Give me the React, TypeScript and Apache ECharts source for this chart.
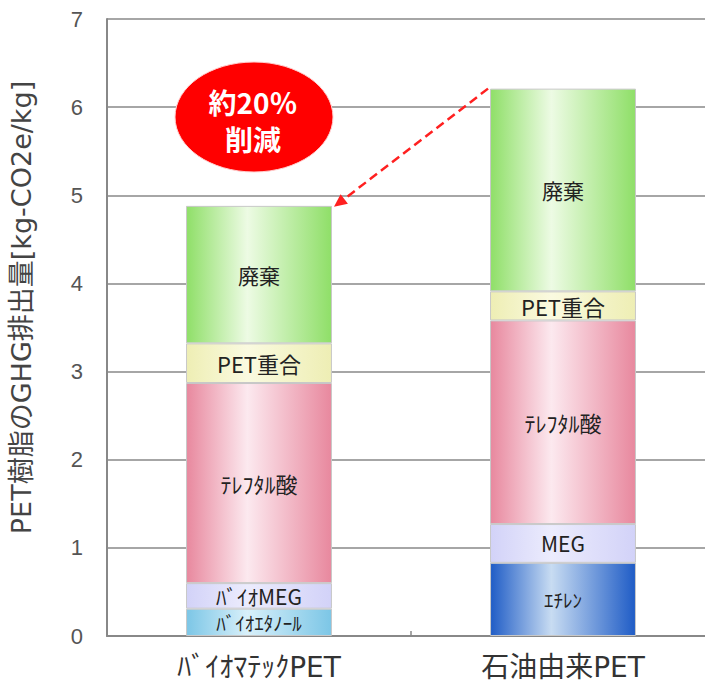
import React, { useEffect, useRef } from "react";
import * as echarts from "echarts";

const categories = ["ﾊﾞｲｵﾏﾃｯｸPET", "石油由来PET"];
const yTicks = [0, 1, 2, 3, 4, 5, 6, 7];
// stack layers, bottom to top: values per category
const layerBase = [0.31, 0.83];
const layerMEG = [0.29, 0.44];
const layerTPA = [2.27, 2.31];
const layerPET = [0.45, 0.33];
const layerWaste = [1.56, 2.3];
const baseNames = ["ﾊﾞｲｵｴﾀﾉｰﾙ", "ｴﾁﾚﾝ"];
const megNames = ["ﾊﾞｲｵMEG", "MEG"];
const tpaName = "ﾃﾚﾌﾀﾙ酸";
const petName = "PET重合";
const wasteName = "廃棄";
const badgeLines = ["約20％", "削減"];

const grad = (edge: string, mid: string) =>
  new echarts.graphic.LinearGradient(0, 0, 1, 0, [
    { offset: 0, color: edge },
    { offset: 0.42, color: mid },
    { offset: 1, color: edge },
  ]);

export default function App() {
  const ref = useRef<HTMLDivElement>(null);
  useEffect(() => {
    document.body.style.margin = "0";
    const chart = echarts.init(ref.current!, null, { renderer: "svg" });
    const font = "'Noto Sans CJK JP', 'Liberation Sans', sans-serif";
    const wideFont = "'DejaVu Sans', 'Noto Sans CJK JP', sans-serif";
    const labelStyle = {
      show: true,
      position: "inside",
      color: "#222",
      fontSize: 21,
      fontFamily: font,
    };
    const border = { borderColor: "#c8c8c8", borderWidth: 1 };
    const baseColors = [grad("#7cc6e6", "#d8f0fa"), grad("#1f5cc6", "#c8dcf2")];
    const mk = (
      name: string,
      vals: number[],
      names: string[],
      colors: any[],
      fs = 21
    ) => ({
      name,
      type: "bar",
      stack: "total",
      barWidth: "48%",
      data: vals.map((v, i) => ({
        value: v,
        itemStyle: { color: colors[i], ...border },
        label: { ...labelStyle, fontSize: fs, formatter: names[i] },
      })),
    });
    const totals = categories.map(
      (_, i) =>
        layerBase[i] + layerMEG[i] + layerTPA[i] + layerPET[i] + layerWaste[i]
    );
    chart.setOption({
      animation: false,
      grid: { left: 99, top: 19, width: 616, bottom: 56, containLabel: false },
      xAxis: {
        type: "category",
        data: categories,
        axisLine: { lineStyle: { color: "#888", width: 2 } },
        axisTick: { show: true, inside: true, length: 5, lineStyle: { color: "#888", width: 1.5 } },
        axisLabel: { color: "#333", fontSize: 28, fontFamily: wideFont, margin: 17 },
      },
      yAxis: {
        type: "value",
        min: 0,
        max: 7,
        interval: 1,
        name: "PET樹脂のGHG排出量[kg-CO2e/kg]",
        nameLocation: "middle",
        nameGap: 72,
        nameRotate: 90,
        nameTextStyle: {
          color: "#444",
          fontSize: 27,
          fontFamily: wideFont,
          padding: [0, 0, 0, 40],
        },
        axisLine: { show: true, lineStyle: { color: "#888", width: 2 } },
        axisTick: { show: false },
        axisLabel: {
          color: "#555",
          fontSize: 22,
          fontFamily: "'Liberation Sans', sans-serif",
          margin: 24,
          formatter: (v: number) => (yTicks.includes(v) ? String(v) : ""),
        },
        splitLine: { lineStyle: { color: "#888", width: 1.5 } },
      },
      series: [
        mk("base", layerBase, baseNames, baseColors, 19),
        mk("meg", layerMEG, megNames, [grad("#d2d2f8", "#ececfd"), grad("#d2d2f8", "#ececfd")], 21),
        mk("tpa", layerTPA, [tpaName, tpaName], [grad("#e8889e", "#fce9ef"), grad("#e8889e", "#fce9ef")], 22),
        mk("pet", layerPET, [petName, petName], [grad("#eeeeb4", "#fafae0"), grad("#eeeeb4", "#fafae0")], 22),
        mk("waste", layerWaste, [wasteName, wasteName], [grad("#8fdf68", "#edfbe4"), grad("#8fdf68", "#edfbe4")], 21),
      ],
    });

    const p0 = chart.convertToPixel({ xAxisIndex: 0, yAxisIndex: 0 }, [0, totals[0]]) as number[];
    const p1 = chart.convertToPixel({ xAxisIndex: 0, yAxisIndex: 0 }, [1, totals[1]]) as number[];
    const barW = (p1[0] - p0[0]) * 0.48;
    const sx = p1[0] - barW / 2 - 2;
    const sy = p1[1];
    const ex = p0[0] + barW / 2 + 2;
    const ey = p0[1] + 1;
    const ang = Math.atan2(ey - sy, ex - sx);
    const ah = 13;
    const aw = 6;
    const bx = ex - ah * Math.cos(ang);
    const by = ey - ah * Math.sin(ang);
    const nx = -Math.sin(ang);
    const ny = Math.cos(ang);
    chart.setOption({
      graphic: [
        {
          type: "line",
          shape: { x1: sx, y1: sy, x2: bx, y2: by },
          style: { stroke: "#ff2020", lineWidth: 2.5, lineDash: [9, 5] },
          z: 100,
        },
        {
          type: "polygon",
          shape: {
            points: [
              [ex, ey],
              [bx + nx * aw, by + ny * aw],
              [bx - nx * aw, by - ny * aw],
            ],
          },
          style: { fill: "#ff2020" },
          z: 100,
        },
        {
          type: "ellipse",
          shape: { cx: 254, cy: 117, rx: 79, ry: 55 },
          style: { fill: "#ff0000", stroke: "#ffd0d0", lineWidth: 1 },
          z: 100,
        },
        {
          type: "text",
          style: {
            text: badgeLines[0],
            x: 253,
            y: 102,
            align: "center",
            verticalAlign: "middle",
            fill: "#fff",
            fontSize: 28,
            fontWeight: "bold",
            fontFamily: font,
          },
          z: 101,
        },
        {
          type: "text",
          style: {
            text: badgeLines[1],
            x: 253,
            y: 139,
            align: "center",
            verticalAlign: "middle",
            fill: "#fff",
            fontSize: 28,
            fontWeight: "bold",
            fontFamily: font,
          },
          z: 101,
        },
      ],
    });
    return () => chart.dispose();
  }, []);
  return (
    <div style={{ width: 705, height: 692, overflow: "hidden" }}>
      <div ref={ref} style={{ width: 720, height: 692 }} />
    </div>
  );
}
